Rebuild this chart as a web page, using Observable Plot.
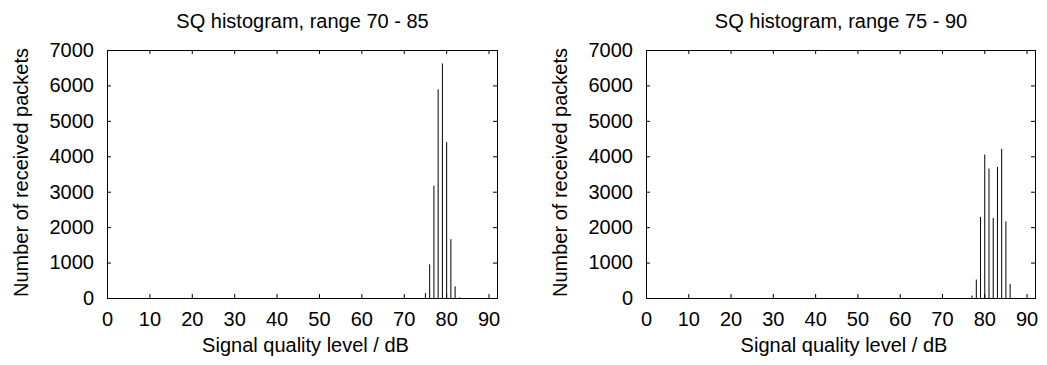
<!DOCTYPE html>
<html><head><meta charset="utf-8">
<script src="https://cdn.jsdelivr.net/npm/d3@7"></script>
<script src="https://cdn.jsdelivr.net/npm/@observablehq/plot@0.6"></script>
<style>
body{margin:0;background:#fff}
#row{display:flex;width:1047px;height:365px}
#row svg{display:block}
</style>
</head><body><div id="row"></div>
<script>
// ---- data ----
const xTicks = [0, 10, 20, 30, 40, 50, 60, 70, 80, 90];
const yTicks = [0, 1000, 2000, 3000, 4000, 5000, 6000, 7000];
const titles = ["SQ histogram, range 70 - 85", "SQ histogram, range 75 - 90"];
const xLabel = "Signal quality level / dB";
const yLabel = "Number of received packets";
const leftLevels = [75, 76, 77, 78, 79, 80, 81, 82, 83];
const leftCounts = [140, 950, 3170, 5890, 6620, 4400, 1660, 330, 20];
const rightLevels = [77, 78, 79, 80, 81, 82, 83, 84, 85, 86];
const rightCounts = [70, 520, 2290, 4050, 3650, 2260, 3700, 4210, 2160, 400];
const xDomain = [0, 92];
const yDomain = [0, 7000];

const H = 365, MT = 50, MB = 67;
const FONT = "'Liberation Sans', Arial, sans-serif";

function panel(title, levels, counts, width, marginLeft, marginRight) {
  const frameW = width - marginLeft - marginRight;
  const frameH = H - MT - MB;
  const tickPx = 4;
  const tx = tickPx * (xDomain[1] - xDomain[0]) / frameW;
  const ty = tickPx * (yDomain[1] - yDomain[0]) / frameH;
  const data = levels.map((x, i) => ({x, y: counts[i]}));
  return Plot.plot({
    width, height: H,
    marginTop: MT, marginBottom: MB, marginLeft, marginRight,
    style: {fontFamily: FONT, fontSize: "20px", color: "black", background: "white", overflow: "visible"},
    x: {domain: xDomain},
    y: {domain: yDomain},
    marks: [
      // bottom & top x ticks (inward)
      Plot.ruleX(xTicks, {x: d => d, y1: yDomain[0], y2: yDomain[0] + ty, stroke: "black"}),
      Plot.ruleX(xTicks, {x: d => d, y1: yDomain[1] - ty, y2: yDomain[1], stroke: "black"}),
      // left & right y ticks (inward)
      Plot.ruleY(yTicks, {y: d => d, x1: xDomain[0], x2: xDomain[0] + tx, stroke: "black"}),
      Plot.ruleY(yTicks, {y: d => d, x1: xDomain[1] - tx, x2: xDomain[1], stroke: "black"}),
      // impulses
      Plot.ruleX(data, {x: "x", y1: 0, y2: "y", stroke: "black", strokeWidth: 1}),
      Plot.frame({stroke: "black"}),
      Plot.axisX(xTicks, {tickSize: 0, tickPadding: 13.5, label: null, fill: "black", tickFormat: d3.format("d")}),
      Plot.axisY(yTicks, {tickSize: 0, tickPadding: 13.5, label: null, fill: "black", tickFormat: d3.format("d")}),
      Plot.text([title], {frameAnchor: "top", lineAnchor: "bottom", dy: -23, fill: "black"}),
      Plot.text([xLabel], {frameAnchor: "bottom", lineAnchor: "bottom", dy: 53, dx: 3, fill: "black"}),
      Plot.text([yLabel], {frameAnchor: "left", textAnchor: "middle", lineAnchor: "bottom", rotate: -90, dx: -79.5, dy: -2, fill: "black"})
    ]
  });
}

const row = document.getElementById("row");
row.appendChild(panel(titles[0], leftLevels, leftCounts, 539, 107, 42));
row.appendChild(panel(titles[1], rightLevels, rightCounts, 508, 107, 12));
</script>
</body></html>
